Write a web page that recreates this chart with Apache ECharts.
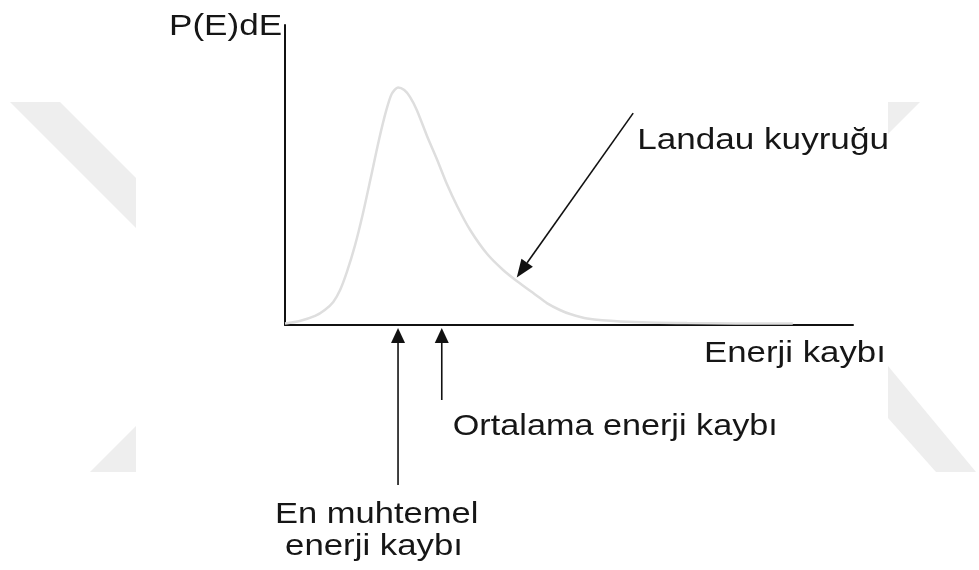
<!DOCTYPE html>
<html>
<head>
<meta charset="utf-8">
<script src="https://cdn.jsdelivr.net/npm/echarts@6/dist/echarts.min.js"></script>
<style>
  html, body { margin: 0; padding: 0; background: #ffffff; }
  #chart { width: 979px; height: 570px; }
</style>
</head>
<body>
<div id="chart"></div>
<script>
// Energy loss (arbitrary units) and the Landau-shaped probability density P(E)dE
const energyLoss = [0, 0.26, 0.53, 0.70, 0.85, 0.97, 1.09, 1.23, 1.37, 1.51, 1.65, 1.78, 1.88, 1.99, 2.10, 2.20, 2.32, 2.50, 2.68, 2.85, 3.03, 3.26, 3.56, 3.84, 4.08, 4.44, 4.61, 4.84, 5.02, 5.32, 5.90, 7.08, 8.94];
const density    = [0.006, 0.017, 0.038, 0.063, 0.097, 0.147, 0.223, 0.332, 0.466, 0.618, 0.773, 0.899, 0.971, 0.998, 0.987, 0.958, 0.903, 0.794, 0.693, 0.592, 0.500, 0.399, 0.298, 0.231, 0.185, 0.122, 0.092, 0.063, 0.046, 0.027, 0.015, 0.008, 0.006];

// Marked energies
const mostProbableLoss = 1.99;
const meanLoss = 2.76;
// Landau tail pointer: from [x, y] to [x, y] in data units
const tailArrowFrom = [6.13, 0.89];
const tailArrowTo = [4.08, 0.20];

// Labels
const yAxisTitle = 'P(E)dE';
const xAxisTitle = 'Enerji kaybı';
const tailLabel = 'Landau kuyruğu';
const meanLabel = 'Ortalama enerji kaybı';
const mostProbableLabel = ['En muhtemel', 'enerji kaybı'];

const chart = echarts.init(document.getElementById('chart'));

const axisCommon = {
  type: 'value',
  axisLine: { show: true, onZero: true, lineStyle: { color: '#111111', width: 2 } },
  axisTick: { show: false },
  axisLabel: { show: false },
  splitLine: { show: false }
};

chart.setOption({
  backgroundColor: '#ffffff',
  animation: false,
  grid: { left: 285, right: 126, top: 25, bottom: 245 },
  xAxis: Object.assign({}, axisCommon, { min: 0, max: 10 }),
  yAxis: Object.assign({}, axisCommon, { min: 0, max: 1.26 }),
  series: [{
    type: 'line',
    data: energyLoss.map((e, i) => [e, density[i]]),
    smooth: 0.25,
    showSymbol: false,
    symbol: 'none',
    lineStyle: { color: '#dedede', width: 2.5 },
    z: 3
  }]
});

const toPx = (pt) => chart.convertToPixel({ gridIndex: 0 }, pt);

// Straight arrow with a filled triangular head at "to"
function arrow(from, to, headLen, headHalf) {
  const dx = to[0] - from[0], dy = to[1] - from[1];
  const len = Math.hypot(dx, dy);
  const ux = dx / len, uy = dy / len;
  const bx = to[0] - ux * headLen, by = to[1] - uy * headLen;
  const nx = -uy, ny = ux;
  return [
    { type: 'line', z: 10, shape: { x1: from[0], y1: from[1], x2: bx, y2: by },
      style: { stroke: '#111111', lineWidth: 1.6 } },
    { type: 'polygon', z: 10,
      shape: { points: [[to[0], to[1]], [bx + nx * headHalf, by + ny * headHalf], [bx - nx * headHalf, by - ny * headHalf]] },
      style: { fill: '#111111' } }
  ];
}

// Slightly widened sans-serif caption, positioned by its left edge and vertical middle
function label(text, left, midY, stretch) {
  return {
    type: 'text', z: 10, x: left, y: midY, scaleX: stretch,
    style: { text: text, x: 0, y: 0, fill: '#161616', font: '30px "Liberation Sans", Arial, sans-serif', align: 'left', verticalAlign: 'middle' }
  };
}

// Faint diagonal bands in the page background
const band = (pts) => ({ type: 'polygon', z: -10, silent: true, shape: { points: pts }, style: { fill: '#eeeeee' } });

const mp = toPx([mostProbableLoss, 0]);
const mn = toPx([meanLoss, 0]);
const origin = toPx([0, 0]);
const yTop = toPx([0, 1.26]);
const xEnd = toPx([10, 0]);
const tailFrom = toPx(tailArrowFrom);
const tailTo = toPx(tailArrowTo);

const elements = [
  band([[10, 102], [60, 102], [136, 178], [136, 228]]),
  band([[90, 472], [136, 472], [136, 426]]),
  band([[888, 102], [920, 102], [888, 134]]),
  band([[888, 366], [888, 418], [936, 472], [976, 472]]),
  ...arrow([mp[0], mp[1] + 160], [mp[0], mp[1] + 3], 15, 7),
  ...arrow([mn[0], mn[1] + 75], [mn[0], mn[1] + 3], 15, 7),
  ...arrow(tailFrom, tailTo, 18, 7),
  label(yAxisTitle, yTop[0] - 116, yTop[1] + 2, 1.17),
  label(xAxisTitle, xEnd[0] - 149, origin[1] + 29, 1.16),
  label(tailLabel, tailFrom[0] + 4, tailFrom[1] + 28, 1.17),
  label(meanLabel, mn[0] + 11, mn[1] + 102, 1.14),
  label(mostProbableLabel[0], mp[0] - 123, mp[1] + 190, 1.15),
  label(mostProbableLabel[1], mp[0] - 113, mp[1] + 222, 1.16)
];

chart.setOption({ graphic: { elements: elements } });
</script>
</body>
</html>
